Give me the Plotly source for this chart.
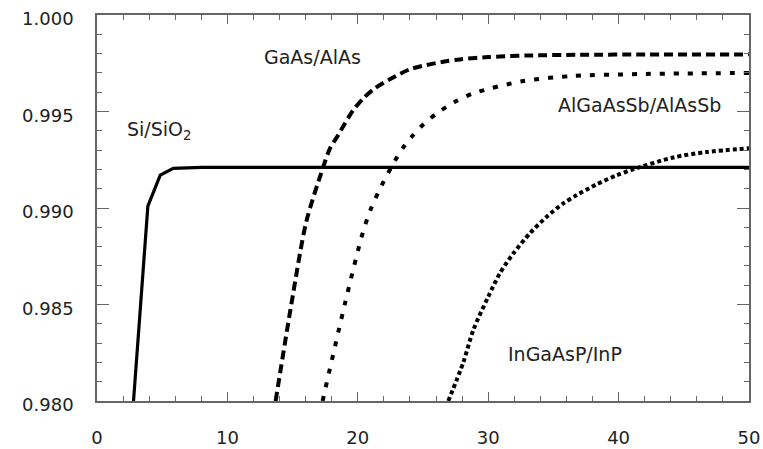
import plotly.graph_objects as go

# Data (number of pairs vs reflectivity)
si_x = [2.8, 3.9, 4.85, 5.85, 8, 50]
si_y = [0.9800, 0.9901, 0.9917, 0.99205, 0.99210, 0.99210]

gaas_x = [13.7, 14.9, 16.05, 17.23, 17.87, 18.5, 19.02, 19.66, 20.42, 21.3, 22.6,
          24.0, 25.28, 26.56, 27.84, 30, 33, 37, 42, 50]
gaas_y = [0.9800, 0.9850, 0.98929, 0.99188, 0.99309, 0.99378, 0.99439, 0.99508,
          0.99568, 0.9962, 0.99672, 0.99719, 0.99741, 0.99758, 0.9977, 0.99782,
          0.99790, 0.99794, 0.99795, 0.99796]

algaassb_x = [17.3, 19.02, 20.37, 21.0, 21.88, 22.85, 23.49, 24.18, 24.98, 26.05,
              27.45, 28.86, 32.7, 36.5, 41.6, 50]
algaassb_y = [0.9800, 0.98506, 0.98869, 0.98995, 0.99124, 0.99245, 0.99314, 0.99373,
              0.9943, 0.9949, 0.9955, 0.99594, 0.99658, 0.99684, 0.99694, 0.99700]

ingaasp_x = [26.94, 28.09, 28.86, 30.0, 30.9, 31.93, 33.2, 34.49, 35.76, 36.79,
             38.3, 39.8, 41.1, 44.2, 46.75, 50]
ingaasp_y = [0.9800, 0.98200, 0.98368, 0.98540, 0.98662, 0.98765, 0.98869, 0.98955,
             0.99024, 0.99067, 0.99122, 0.99168, 0.99200, 0.99262, 0.99290, 0.99309]

labels = ["Si/SiO<sub>2</sub>", "GaAs/AlAs", "AlGaAsSb/AlAsSb", "InGaAsP/InP"]
label_x = [4.8, 16.5, 41.6, 35.9]
label_y = [0.99400, 0.99780, 0.99534, 0.98243]

x_ticks = [0, 10, 20, 30, 40, 50]
y_ticks = [0.980, 0.985, 0.990, 0.995, 1.000]
y_tick_text = ["0.980", "0.985", "0.990", "0.995", "1.000"]

FONT = "DejaVu Sans"

fig = go.Figure()
fig.add_trace(go.Scatter(x=si_x, y=si_y, mode="lines",
                         line=dict(color="black", width=3.2), showlegend=False))
fig.add_trace(go.Scatter(x=gaas_x, y=gaas_y, mode="lines",
                         line=dict(color="black", width=4, dash="9px,5px",
                                   shape="spline", smoothing=0.8), showlegend=False))
fig.add_trace(go.Scatter(x=algaassb_x, y=algaassb_y, mode="lines",
                         line=dict(color="black", width=4, dash="5px,9px",
                                   shape="spline", smoothing=0.8), showlegend=False))
fig.add_trace(go.Scatter(x=ingaasp_x, y=ingaasp_y, mode="lines",
                         line=dict(color="black", width=4, dash="4px,3px",
                                   shape="spline", smoothing=0.8), showlegend=False))

for t, x, y in zip(labels, label_x, label_y):
    fig.add_annotation(x=x, y=y, text=t, showarrow=False,
                       font=dict(family=FONT, size=19, color="#222"))

axis_common = dict(showgrid=False, zeroline=False, showline=True, linecolor="#666",
                   linewidth=1.5, mirror="ticks", ticks="inside", tickcolor="#666",
                   tickwidth=1.3, automargin=False, ticklabeloverflow="allow",
                   tickfont=dict(family=FONT, size=18, color="#222"))

fig.update_xaxes(range=[0, 50], tickvals=x_ticks, ticklen=9,
                 minor=dict(dtick=2, ticks="inside", ticklen=5, tickcolor="#666", tickwidth=1.2),
                 ticklabelstandoff=20, **axis_common)
fig.update_yaxes(range=[0.98, 1.0], tickvals=y_ticks, ticktext=y_tick_text, ticklen=12,
                 minor=dict(dtick=0.001, ticks="inside", ticklen=5, tickcolor="#666", tickwidth=1.2),
                 ticklabelstandoff=18, ticklabelshift=4, **axis_common)

fig.update_layout(width=763, height=449, margin=dict(l=97, r=14, t=15, b=48),
                  plot_bgcolor="white", paper_bgcolor="white")

# remove the page's default body margin so the figure fills the 763x449 window exactly
fig.write_html("out.html", config={"displayModeBar": False},
               post_script="document.body.style.margin='0';document.body.style.overflow='hidden';")
